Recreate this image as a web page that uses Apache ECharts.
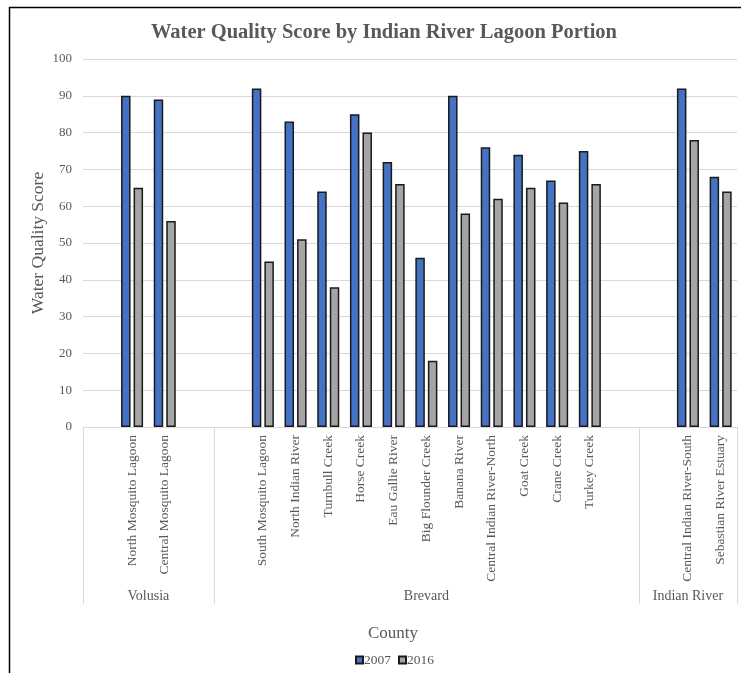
<!DOCTYPE html>
<html>
<head>
<meta charset="utf-8">
<script src="https://cdn.jsdelivr.net/npm/echarts@6/dist/echarts.min.js"></script>
<style>
html,body{margin:0;padding:0;background:#fff;}
#chart{width:741px;height:673px;}
</style>
</head>
<body>
<div id="chart"></div>
<script>
// Lagoon portions (blank slots are the empty spacer categories of the original chart)
const portions = [
  '', 'North Mosquito Lagoon', 'Central Mosquito Lagoon', '',
  '', 'South Mosquito Lagoon', 'North Indian River', 'Turnbull Creek', 'Horse Creek',
  'Eau Gallie River', 'Big Flounder Creek', 'Banana River', 'Central Indian River-North',
  'Goat Creek', 'Crane Creek', 'Turkey Creek', '',
  '', 'Central Indian River-South', 'Sebastian River Estuary'
];
const counties = ['Volusia', 'Brevard', 'Indian River'];
const countySlots = [4, 13, 3];
const score2007 = [null, 90, 89, null, null, 92, 83, 64, 85, 72, 46, 90, 76, 74, 67, 75, null, null, 92, 68];
const score2016 = [null, 65, 56, null, null, 45, 51, 38, 80, 66, 18, 58, 62, 65, 61, 66, null, null, 78, 64];
const yTicks = [0, 10, 20, 30, 40, 50, 60, 70, 80, 90, 100];

// derived group boundaries / centres in slot units
const bounds = [0];
countySlots.forEach(n => bounds.push(bounds[bounds.length - 1] + n));
const centres = counties.map((c, i) => (bounds[i] + bounds[i + 1]) / 2);
const totalSlots = bounds[bounds.length - 1];

const FONT = '"Liberation Serif", "Times New Roman", serif';
const chart = echarts.init(document.getElementById('chart'));
chart.setOption({
  animation: false,
  backgroundColor: '#fff',
  graphic: [{
    type: 'rect', silent: true,
    shape: { x: 9.5, y: 7.5, width: 900, height: 900 },
    style: { fill: 'none', stroke: '#000', lineWidth: 1.5 }
  }],
  title: {
    text: 'Water Quality Score by Indian River Lagoon Portion',
    left: 146, top: 17,
    textStyle: { fontFamily: FONT, fontSize: 20.5, fontWeight: 'bold', color: '#595959' }
  },
  legend: {
    data: ['2007', '2016'],
    left: 350, top: 648,
    icon: 'rect', itemWidth: 7, itemHeight: 7, itemGap: 7,
    textStyle: { fontFamily: FONT, fontSize: 13.5, color: '#595959', padding: [0, 0, 0, -4] }
  },
  grid: { left: 83, right: 4, top: 59, bottom: 246, containLabel: false },
  xAxis: [{
    type: 'category',
    data: portions,
    boundaryGap: true,
    axisLine: { lineStyle: { color: '#d9d9d9', width: 1 } },
    axisTick: { show: false },
    axisLabel: { interval: 0, rotate: 90, margin: 8, fontFamily: FONT, fontSize: 13.5, color: '#595959' },
    name: 'County',
    nameLocation: 'middle',
    nameGap: 198,
    nameMoveOverlap: false,
    nameTextStyle: { fontFamily: FONT, fontSize: 17, color: '#595959', padding: [0, 34, 0, 0] }
  }, {
    type: 'value',
    position: 'bottom',
    min: 0, max: totalSlots,
    axisLine: { show: false },
    splitLine: { show: false },
    axisTick: { show: true, customValues: bounds, length: 177, lineStyle: { color: '#d9d9d9', width: 1 } },
    axisLabel: {
      customValues: centres, margin: 162,
      fontFamily: FONT, fontSize: 14, color: '#595959',
      formatter: v => { const i = centres.indexOf(v); return i >= 0 ? counties[i] : ''; }
    }
  }],
  yAxis: {
    type: 'value',
    min: yTicks[0], max: yTicks[yTicks.length - 1], interval: 10,
    axisLine: { show: false },
    axisTick: { show: false },
    splitLine: { lineStyle: { color: '#d9d9d9', width: 1 } },
    axisLabel: { margin: 11, fontFamily: FONT, fontSize: 13, color: '#595959' },
    name: 'Water Quality Score',
    nameLocation: 'middle',
    nameGap: 36,
    nameMoveOverlap: false,
    nameTextStyle: { fontFamily: FONT, fontSize: 17.5, color: '#595959' }
  },
  series: [{
    name: '2007', type: 'bar', data: score2007,
    barWidth: 9.5, barGap: '32%',
    itemStyle: { color: '#4472C4', borderColor: '#1a1a1a', borderWidth: 1.5 }
  }, {
    name: '2016', type: 'bar', data: score2016,
    barWidth: 9.5,
    itemStyle: { color: '#A5A5A5', borderColor: '#1a1a1a', borderWidth: 1.5 }
  }]
});
</script>
</body>
</html>
